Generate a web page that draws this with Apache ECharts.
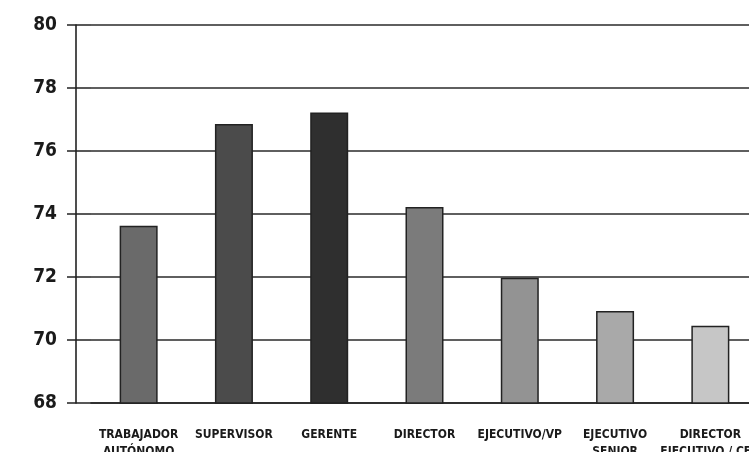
<!DOCTYPE html>
<html>
<head>
<meta charset="utf-8">
<script src="https://cdn.jsdelivr.net/npm/echarts@6/dist/echarts.min.js"></script>
<style>
html,body{margin:0;padding:0;background:#fff;}
#c{width:749px;height:452px;}
</style>
</head>
<body>
<div id="c"></div>
<script>
const categories = ["TRABAJADOR\nAUTÓNOMO", "SUPERVISOR", "GERENTE", "DIRECTOR", "EJECUTIVO/VP", "EJECUTIVO\nSENIOR", "DIRECTOR\nEJECUTIVO / CEO"];
const values = [73.63, 76.86, 77.22, 74.22, 71.98, 70.92, 70.45];
const barColors = ["#6a6a6a", "#4b4b4b", "#2f2f2f", "#7b7b7b", "#939393", "#a9a9a9", "#c6c6c6"];
const yMin = 68, yMax = 80, yStep = 2;

const chart = echarts.init(document.getElementById('c'), null, {renderer: 'canvas'});
const condensed = "'Liberation Sans Narrow', 'DejaVu Sans Condensed', 'Roboto Condensed', sans-serif";
chart.setOption({
  animation: false,
  backgroundColor: '#ffffff',
  grid: {left: 91, right: -9, top: 25, bottom: 49, containLabel: false, outerBoundsMode: 'none'},
  xAxis: {
    type: 'category',
    data: categories,
    axisLine: {show: true, lineStyle: {color: '#222', width: 1.6}},
    axisTick: {show: false},
    axisLabel: {
      interval: 0, margin: 23, color: '#1a1a1a', hideOverlap: false,
      fontFamily: condensed, fontWeight: 'bold', fontSize: 12, lineHeight: 17
    }
  },
  yAxis: [
    {
      type: 'value', min: yMin, max: yMax, interval: yStep, position: 'left', offset: 0,
      axisLine: {show: false},
      axisTick: {show: true, length: 24, lineStyle: {color: '#222', width: 1.5}},
      axisLabel: {show: false},
      splitLine: {show: true, lineStyle: {color: '#2a2a2a', width: 1.5}}
    },
    {
      type: 'value', min: yMin, max: yMax, interval: yStep, position: 'left', offset: 15,
      axisLine: {show: true, lineStyle: {color: '#222', width: 1.6}},
      axisTick: {show: false},
      axisLabel: {show: true, margin: 19, color: '#1a1a1a', fontFamily: "'DejaVu Sans Condensed', 'Liberation Sans', sans-serif", fontWeight: 'bold', fontSize: 19},
      splitLine: {show: false}
    }
  ],
  series: [{
    type: 'bar',
    yAxisIndex: 0,
    barWidth: 38,
    data: values.map((v, i) => ({value: v, itemStyle: {color: barColors[i]}})),
    itemStyle: {borderColor: '#222', borderWidth: 1.5}
  }]
});
</script>
</body>
</html>
